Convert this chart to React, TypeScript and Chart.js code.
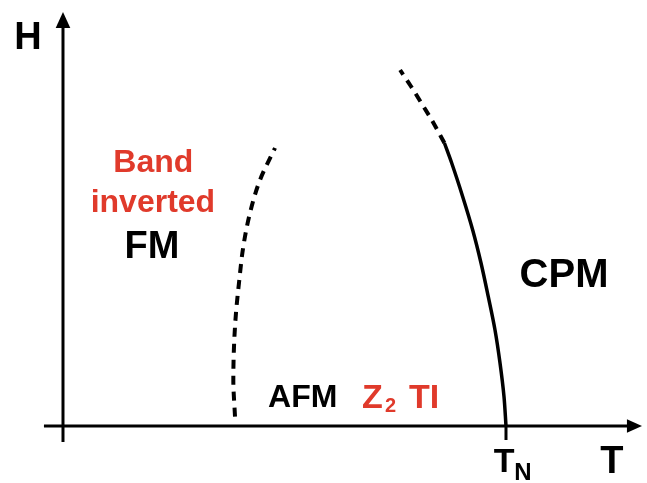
import React, { useEffect, useRef } from "react";
import { Chart, registerables } from "chart.js";

Chart.register(...registerables);

// Phase boundaries (T, H in arbitrary units, T_N = 1)
const leftBoundaryT = [0.3883, 0.3845, 0.386, 0.3905, 0.398, 0.407, 0.4221, 0.4447, 0.4786];
const leftBoundaryH = [0.0233, 0.115, 0.1983, 0.2825, 0.365, 0.4483, 0.5325, 0.615, 0.695];
const rightSolidT = [1.0, 0.9955, 0.9865, 0.9752, 0.96, 0.9436, 0.9248, 0.9023, 0.8774, 0.861];
const rightSolidH = [0, 0.0733, 0.1575, 0.24, 0.3233, 0.4075, 0.49, 0.5733, 0.6575, 0.7075];
const rightDashedT = [0.861, 0.835, 0.809, 0.785, 0.761];
const rightDashedH = [0.7075, 0.76, 0.8075, 0.85, 0.89];

// Texts
const axisTitles = ["T", "H"];
const tickLabel = ["T", "N"]; // T_N
const tickValues = [1.0];
const regionTexts = ["Band", "inverted", "FM", "CPM"];
const afmTexts = ["AFM", "Z", "2", "TI"];

const FONT = '"Liberation Sans", Arial, Helvetica, sans-serif';
const RED = "#e03a2b";
const BLACK = "#000000";

const toPts = (xs: number[], ys: number[]) => xs.map((x, i) => ({ x, y: ys[i] }));

const annotationPlugin = {
  id: "phaseAnnotations",
  afterDatasetsDraw(chart: any) {
    const { ctx } = chart;
    const xs = chart.scales.x;
    const ys = chart.scales.y;
    const px = (v: number) => xs.getPixelForValue(v);
    const py = (v: number) => ys.getPixelForValue(v);
    ctx.save();
    ctx.strokeStyle = BLACK;
    ctx.fillStyle = BLACK;
    ctx.lineWidth = 3;
    ctx.lineCap = "butt";
    // y axis
    ctx.beginPath();
    ctx.moveTo(px(0), py(-0.04));
    ctx.lineTo(px(0), py(1.0));
    ctx.stroke();
    ctx.beginPath();
    ctx.moveTo(px(0), py(1.035));
    ctx.lineTo(px(-0.0165), py(0.995));
    ctx.lineTo(px(0.0165), py(0.995));
    ctx.closePath();
    ctx.fill();
    // x axis
    ctx.beginPath();
    ctx.moveTo(px(-0.043), py(0));
    ctx.lineTo(px(1.28), py(0));
    ctx.stroke();
    ctx.beginPath();
    ctx.moveTo(px(1.307), py(0));
    ctx.lineTo(px(1.273), py(0.017));
    ctx.lineTo(px(1.273), py(-0.017));
    ctx.closePath();
    ctx.fill();
    // T_N tick
    tickValues.forEach((t) => {
      ctx.beginPath();
      ctx.moveTo(px(t), py(0));
      ctx.lineTo(px(t), py(-0.035));
      ctx.stroke();
    });

    const text = (s: string, x: number, y: number, size: number, color: string, align: CanvasTextAlign) => {
      ctx.font = `bold ${size}px ${FONT}`;
      ctx.fillStyle = color;
      ctx.textAlign = align;
      ctx.textBaseline = "alphabetic";
      ctx.fillText(s, px(x), py(y));
    };
    // axis titles
    text(axisTitles[1], -0.079, 0.9425, 38, BLACK, "center");
    text(axisTitles[0], 1.239, -0.1175, 38, BLACK, "center");
    // T_N
    text(tickLabel[0], 0.996, -0.115, 34, BLACK, "center");
    text(tickLabel[1], 1.038, -0.135, 24, BLACK, "center");
    // regions
    text(regionTexts[0], 0.204, 0.635, 32, RED, "center");
    text(regionTexts[1], 0.203, 0.535, 32, RED, "center");
    text(regionTexts[2], 0.201, 0.42, 38, BLACK, "center");
    text(regionTexts[3], 1.131, 0.3475, 40, BLACK, "center");
    text(afmTexts[0], 0.463, 0.0475, 32, BLACK, "left");
    text(afmTexts[1], 0.675, 0.0455, 34, RED, "left");
    text(afmTexts[2], 0.7269, 0.035, 20, RED, "left");
    text(afmTexts[3], 0.781, 0.0455, 34, RED, "left");
    ctx.restore();
  },
};

const lineStyle = {
  borderColor: BLACK,
  borderWidth: 3.5,
  cubicInterpolationMode: "monotone" as const,
  indexAxis: "y" as const,
  pointRadius: 0,
  fill: false,
  borderCapStyle: "butt" as const,
};

export default function App() {
  const ref = useRef<HTMLCanvasElement | null>(null);
  useEffect(() => {
    if (!ref.current) return;
    const chart = new Chart(ref.current, {
      type: "line",
      data: {
        datasets: [
          { label: "left", data: toPts(leftBoundaryT, leftBoundaryH), ...lineStyle, borderWidth: 4, borderDash: [9, 7] },
          { label: "rightSolid", data: toPts(rightSolidT, rightSolidH), ...lineStyle },
          { label: "rightDashed", data: toPts(rightDashedT, rightDashedH), ...lineStyle, borderWidth: 4, borderDash: [9, 7] },
        ] as any,
      },
      options: {
        animation: false,
        responsive: true,
        maintainAspectRatio: false,
        indexAxis: "y",
        layout: { padding: 0 },
        parsing: false as any,
        plugins: { legend: { display: false }, tooltip: { enabled: false } },
        events: [],
        scales: {
          x: { type: "linear", min: -0.1422, max: 1.3183, display: false },
          y: { type: "linear", min: -0.1425, max: 1.065, display: false },
        },
      },
      plugins: [annotationPlugin],
    });
    return () => chart.destroy();
  }, []);
  return (
    <div style={{ position: "fixed", left: 0, top: 0, width: 647, height: 483, background: "#fff" }}>
      <canvas ref={ref} />
    </div>
  );
}
